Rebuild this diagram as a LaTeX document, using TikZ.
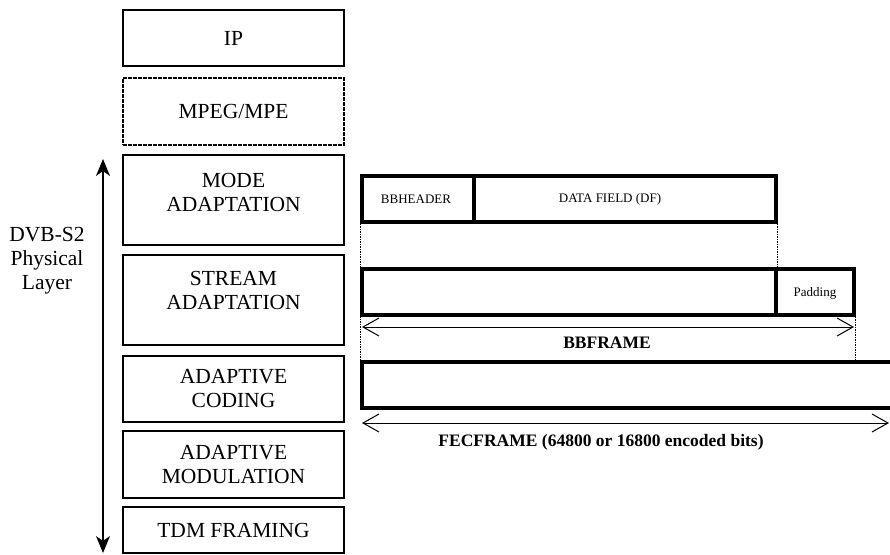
\documentclass[tikz,border=0pt]{standalone}
\usepackage{fontspec}
\setmainfont{Liberation Serif}
\usetikzlibrary{arrows.meta}
\begin{document}
\begin{tikzpicture}[x=1pt,y=-1pt,
  layer/.style={draw, line width=1.2pt, minimum width=221pt, inner sep=0pt,
    align=center, font=\fontsize{21.5}{24}\selectfont},
  layertext/.style={inner sep=0pt, align=center, font=\fontsize{21.5}{24}\selectfont},
  framebox/.style={draw, line width=3.5pt, inner sep=0pt, minimum height=46pt},
  smalltext/.style={inner sep=0pt, font=\fontsize{13}{15}\selectfont},
  spanlabel/.style={inner sep=0pt, font=\bfseries\fontsize{17.5}{20}\selectfont},
  guide/.style={line width=1.3pt, dash pattern=on 1.5pt off 1pt},
  barb/.tip={Straight Barb[length=16pt,width=18pt,line width=1pt]},
  span/.style={line width=0.9pt, barb-barb},
  layerarrow/.style={line width=1.3pt,
    {Stealth[length=17pt,width=14pt,inset=5pt]}-{Stealth[length=17pt,width=14pt,inset=5pt]}}]
\useasboundingbox (0,0) rectangle (890,554);

% protocol stack
\node[layer, minimum height=56pt] (ip) at (233.5,38) {IP};
\node[layer, minimum height=67pt, line width=1.4pt, dash pattern=on 4pt off 1pt] (mpeg) at (233.5,111.5) {MPEG/MPE};
\node[layer, minimum height=90pt] (mode) at (233.5,200) {};
\node[layertext] (modet) at (233.5,192) {MODE\\ADAPTATION};
\node[layer, minimum height=90pt] (stream) at (233.5,300) {};
\node[layertext] (streamt) at (233.5,290) {STREAM\\ADAPTATION};
\node[layer, minimum height=66pt] (coding) at (233.5,389) {ADAPTIVE\\CODING};
\node[layer, minimum height=67pt] (modul) at (233.5,464.5) {ADAPTIVE\\MODULATION};
\node[layer, minimum height=46pt] (tdm) at (233.5,530) {TDM FRAMING};

% physical layer extent
\coordinate (phytop) at (103,159);
\coordinate (phybot) at (103,553);
\draw[layerarrow] (phybot) -- (phytop);
\node[layertext] (phy) at (47,261) {DVB-S2\\Physical\\Layer};

% baseband header and data field
\node[framebox, minimum width=112pt] (bbh) at (418,199) {};
\node[smalltext] (bbht) at (416,199) {BBHEADER};
\node[framebox, minimum width=302pt] (df) at (625,199) {};
\node[smalltext] (dft) at (610,199) {DATA FIELD (DF)};

% baseband frame with padding
\node[framebox, minimum width=414pt] (payload) at (569,292) {};
\node[framebox, minimum width=78pt] (pad) at (815,292) {};
\node[smalltext] (padt) at (815,293) {Padding};

% FEC frame (runs past the right edge)
\node[framebox, minimum width=560pt] (fec) at (642,385) {};

% alignment guides
\draw[guide] (bbh.south west) -- (fec.north west);
\draw[guide] (df.south east) -- (payload.north east);
\draw[guide] (pad.south east) -- (pad.south east |- fec.north);

% length spans
\coordinate (bbl) at (362,327);
\coordinate (bbr) at (854,327);
\draw[span] (bbl) -- (bbr);
\node[spanlabel] (bbft) at (607,343) {BBFRAME};
\coordinate (fecl) at (362,423);
\coordinate (fecr) at (889,423);
\draw[span] (fecl) -- (fecr);
\node[spanlabel] (fect) at (601,442) {FECFRAME (64800 or 16800 encoded bits)};
\end{tikzpicture}
\end{document}
